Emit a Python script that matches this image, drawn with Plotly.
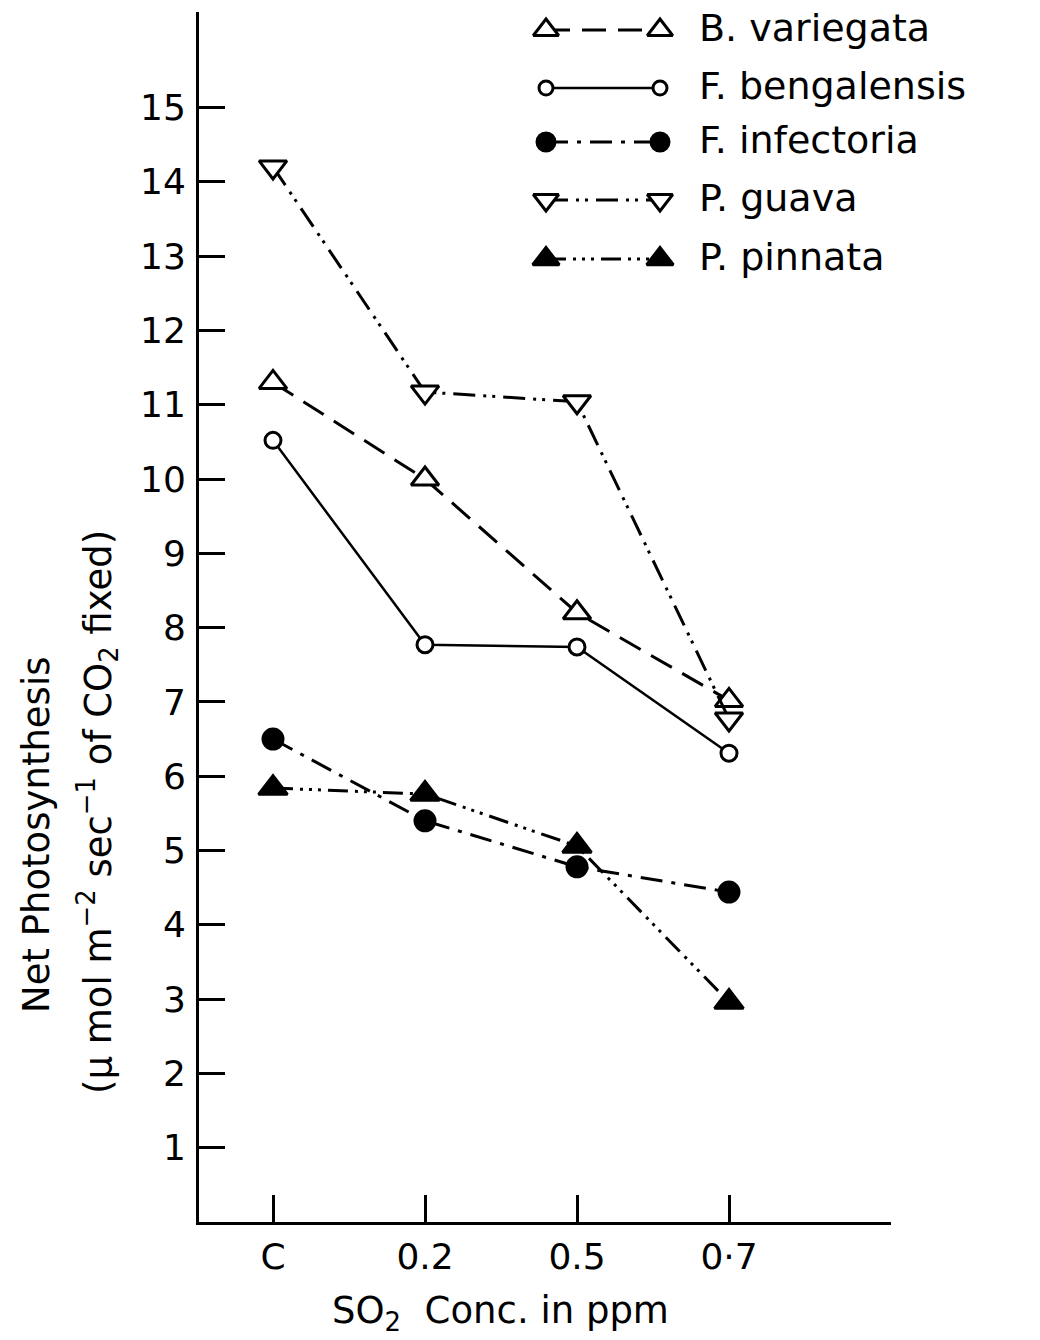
import plotly.graph_objects as go

# SO2 treatment levels (C = control) and net photosynthesis per species
conc_labels = ["C", "0.2", "0.5", "0·7"]
conc_pos = [0, 1, 2, 3]

b_variegata = [11.3, 10.0, 8.2, 7.02]
f_bengalensis = [10.52, 7.77, 7.74, 6.31]
f_infectoria = [6.5, 5.4, 4.78, 4.44]
p_guava = [14.2, 11.17, 11.04, 6.77]
p_pinnata = [5.84, 5.76, 5.06, 2.96]

species = ["B. variegata", "F. bengalensis", "F. infectoria", "P. guava", "P. pinnata"]
values = [b_variegata, f_bengalensis, f_infectoria, p_guava, p_pinnata]

y_ticks = list(range(1, 16))

INK = "black"
FONT = "DejaVu Sans"

# per-series drawing style: symbol, size, fill, dash, line width
styles = [
    dict(symbol="triangle-up", size=24, fill="white", dash="24px,12px", width=3),
    dict(symbol="circle", size=16, fill="white", dash="solid", width=2.5),
    dict(symbol="circle", size=20, fill=INK, dash="22px,9px,4px,9px", width=3),
    dict(symbol="triangle-down", size=24, fill="white", dash="22px,8px,3px,6px,3px,8px", width=3),
    dict(symbol="triangle-up", size=25, fill=INK, dash="20px,7px,3px,6px,3px,6px,3px,7px", width=3),
]

fig = go.Figure()

for name, vals, st in zip(species, values, styles):
    fig.add_trace(go.Scatter(
        x=conc_pos, y=vals, name=name, mode="lines+markers",
        line=dict(color=INK, width=st["width"], dash=st["dash"]),
        marker=dict(symbol=st["symbol"], size=st["size"], color=st["fill"],
                    line=dict(color=INK, width=3)),
        showlegend=False, cliponaxis=False,
    ))

# hand-built key in the upper right, laid out on a pixel-scaled overlay axis
key_rows = [30, 88, 142, 200, 259]
key_x = [546, 660]
for name, st, ry in zip(species, styles, key_rows):
    fig.add_trace(go.Scatter(
        x=key_x, y=[ry, ry], mode="lines+markers", xaxis="x2", yaxis="y2",
        line=dict(color=INK, width=st["width"], dash=st["dash"]),
        marker=dict(symbol=st["symbol"], size=st["size"] - 2, color=st["fill"],
                    line=dict(color=INK, width=3)),
        showlegend=False, hoverinfo="skip", cliponaxis=False,
    ))

L, R, T, B = 199, 891, 12, 1222
W, H = 1040, 1340


def px(x):
    return (x - L) / (R - L)


def py(y):
    return (B - y) / (B - T)


annotations = []
for name, ry in zip(species, key_rows):
    annotations.append(dict(
        x=px(697), y=py(ry - 2), xref="paper", yref="paper", text=name,
        showarrow=False, xanchor="left", yanchor="middle",
        font=dict(family=FONT, size=38, color=INK),
    ))

# axis titles
annotations.append(dict(
    x=px(36), y=py(835), xref="paper", yref="paper", textangle=-90,
    text="Net Photosynthesis", showarrow=False,
    xanchor="center", yanchor="middle", font=dict(family=FONT, size=37, color=INK),
))
annotations.append(dict(
    x=px(97), y=py(812), xref="paper", yref="paper", textangle=-90,
    text="(μ mol m<sup>−2</sup> sec<sup>−1</sup> of CO<sub>2</sub> fixed)",
    showarrow=False, xanchor="center", yanchor="middle",
    font=dict(family=FONT, size=37, color=INK),
))
annotations.append(dict(
    x=px(500), y=py(1313), xref="paper", yref="paper",
    text="SO<sub>2</sub>  Conc. in ppm", showarrow=False,
    xanchor="center", yanchor="middle", font=dict(family=FONT, size=37, color=INK),
))

fig.update_layout(
    width=W, height=H,
    margin=dict(l=L, r=W - R, t=T, b=H - B, pad=0),
    paper_bgcolor="white", plot_bgcolor="white",
    font=dict(family=FONT, size=36, color=INK),
    showlegend=False,
    annotations=annotations,
    xaxis=dict(
        range=[(L - 273) / 152, (R - 273) / 152],
        tickmode="array", tickvals=conc_pos, ticktext=conc_labels,
        ticks="inside", ticklen=27, tickwidth=3, tickcolor=INK,
        showline=True, linewidth=3, linecolor=INK,
        showgrid=False, zeroline=False, ticklabelstandoff=1,
        tickfont=dict(family=FONT, size=36, color=INK),
    ),
    yaxis=dict(
        range=[0, (B - T) / 74.3],
        tickmode="array", tickvals=y_ticks, ticktext=[str(v) for v in y_ticks],
        ticks="inside", ticklen=26, tickwidth=3, tickcolor=INK,
        showline=True, linewidth=3, linecolor=INK,
        showgrid=False, zeroline=False, ticklabelstandoff=3,
        tickfont=dict(family=FONT, size=36, color=INK),
    ),
    xaxis2=dict(range=[L, R], overlaying="x", anchor="y2", visible=False,
                fixedrange=True),
    yaxis2=dict(range=[B, T], overlaying="y", anchor="x2", visible=False,
                fixedrange=True),
)

fig.write_html("out.html")
